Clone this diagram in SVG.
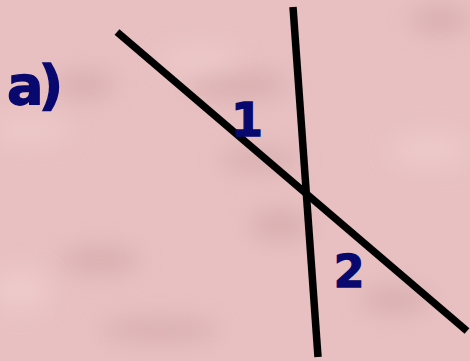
<svg xmlns="http://www.w3.org/2000/svg" width="470" height="361" viewBox="0 0 470 361">
  <defs>
    <filter id="blur" x="-50%" y="-50%" width="200%" height="200%">
      <feGaussianBlur stdDeviation="12"/>
    </filter>
    <style>
      .ln { stroke: #000; stroke-width: 7.5; fill: none; }
      .lbl { font-family: "DejaVu Sans", Verdana, sans-serif; font-weight: bold; fill: #08086e; stroke: #08086e; stroke-width: 1.3; }
    </style>
  </defs>
  <rect width="470" height="361" fill="#e8c0c1"/>
  <g filter="url(#blur)" fill="#c99c9e" opacity="0.55">
    <ellipse cx="85" cy="85" rx="30" ry="12"/>
    <ellipse cx="240" cy="85" rx="50" ry="12"/>
    <ellipse cx="280" cy="225" rx="30" ry="14"/>
    <ellipse cx="100" cy="260" rx="40" ry="12"/>
    <ellipse cx="395" cy="300" rx="35" ry="12"/>
    <ellipse cx="160" cy="330" rx="60" ry="10"/>
    <ellipse cx="440" cy="20" rx="30" ry="12"/>
    <ellipse cx="260" cy="160" rx="40" ry="10"/>
  </g>
  <g fill="#f3d2d3" filter="url(#blur)" opacity="0.6">
    <ellipse cx="30" cy="130" rx="40" ry="12"/>
    <ellipse cx="200" cy="60" rx="40" ry="12"/>
    <ellipse cx="430" cy="150" rx="40" ry="15"/>
    <ellipse cx="20" cy="290" rx="30" ry="20"/>
  </g>
  <g id="connectors">
    <line class="ln" x1="117" y1="32" x2="467" y2="331"/>
    <line class="ln" x1="293" y1="7" x2="318" y2="357"/>
  </g>
  <g id="label-a"><text class="lbl" x="7" y="104" font-size="54" letter-spacing="-5">a)</text></g>
  <g id="label-1"><text class="lbl" x="247" y="136" font-size="46" text-anchor="middle">1</text></g>
  <g id="label-2"><text class="lbl" x="349" y="287" font-size="44" text-anchor="middle">2</text></g>
</svg>
